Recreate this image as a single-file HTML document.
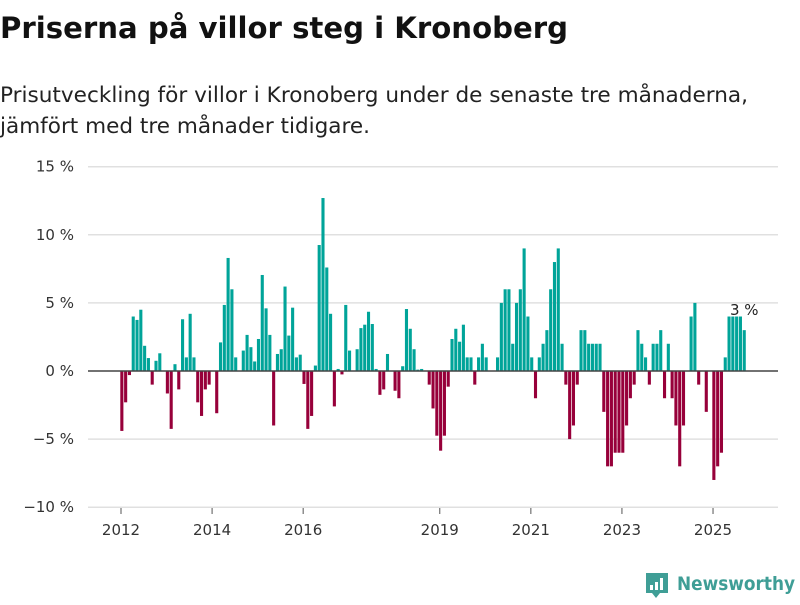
<!DOCTYPE html>
<html><head><meta charset="utf-8">
<style>
body{margin:0;background:#fff;width:800px;height:600px;overflow:hidden;font-family:"Liberation Sans","DejaVu Sans",sans-serif;}
svg text{font-family:"DejaVu Sans","Liberation Sans",sans-serif;}
</style></head><body>
<svg id="chart" width="800" height="600">
<text x="0" y="38" font-size="29" font-weight="bold" fill="#111" textLength="568" lengthAdjust="spacingAndGlyphs">Priserna på villor steg i Kronoberg</text>
<text x="0" y="102" font-size="21" fill="#222" textLength="748" lengthAdjust="spacingAndGlyphs">Prisutveckling för villor i Kronoberg under de senaste tre månaderna,</text>
<text x="0" y="133" font-size="21" fill="#222" textLength="370" lengthAdjust="spacingAndGlyphs">jämfört med tre månader tidigare.</text>
<g id="grid"></g><g id="bars"></g><g id="xaxis"></g>
<text x="730" y="315" font-size="15" fill="#222">3 %</text>
<g>
<path d="M646 573 h22 v20 h-8 l-4 5 l-4 -5 h-6 z" fill="#3f9e96"/>
<rect x="650" y="585" width="3" height="5" fill="#fff"/><rect x="655" y="582" width="3" height="8" fill="#fff"/><rect x="660" y="578" width="3" height="12" fill="#fff"/>
<text x="677" y="590" font-size="19" fill="#3f9e96" font-weight="bold" textLength="118" lengthAdjust="spacingAndGlyphs">Newsworthy</text>
</g>
</svg>
<script>
const yTicks=[15,10,5,0,-5,-10];
const yTickLabels=["15 %","10 %","5 %","0 %","−5 %","−10 %"];
const xTickYears=[2012,2014,2016,2019,2021,2023,2025];
const startYear=2012;
const values=[-4.4,-2.3,-0.3,4.0,3.75,4.5,1.85,0.95,-1.0,0.75,1.3,0,
-1.65,-4.25,0.5,-1.35,3.8,1.0,4.2,1.0,-2.3,-3.3,-1.35,-1.0,
0,-3.1,2.1,4.85,8.3,6.0,1.0,0,1.5,2.65,1.75,0.7,
2.35,7.05,4.6,2.65,-4.0,1.25,1.6,6.2,2.6,4.65,1.0,1.2,
-0.95,-4.25,-3.3,0.4,9.25,12.7,7.6,4.2,-2.6,0.15,-0.25,4.85,
1.5,0,1.6,3.15,3.4,4.35,3.45,0.15,-1.75,-1.35,1.25,0,
-1.45,-2.0,0.35,4.55,3.1,1.6,0.1,0.15,0,-1.0,-2.75,-4.75,
-5.85,-4.75,-1.15,2.35,3.1,2.15,3.4,1.0,1.0,-1.0,1.0,2.0,
1.0,0,0,1.0,5.0,6.0,6.0,2.0,5.0,6.0,9.0,4.0,
1.0,-2.0,1.0,2.0,3.0,6.0,8.0,9.0,2.0,-1.0,-5.0,-4.0,
-1.0,3,3,2,2,2,2,-3,-7,-7,-6,-6,
-6,-4,-2,-1,3,2,1,-1,2,2,3,-2,
2,-2,-4,-7,-4,0,4,5,-1,0,-3,0,
-8,-7,-6,1,4,4,4,4,3];
const NS="http://www.w3.org/2000/svg";
const y=v=>371-v*13.62;
const xm=i=>120.3+i*3.795;
const xy=yr=>xm((yr-startYear)*12)+0.7;
const grid=document.getElementById('grid');
yTicks.forEach((t,k)=>{
  if(t!==0){const l=document.createElementNS(NS,'line');
  l.setAttribute('x1',88);l.setAttribute('x2',778);l.setAttribute('y1',y(t));l.setAttribute('y2',y(t));
  l.setAttribute('stroke','#e0e0e0');l.setAttribute('stroke-width','1.5');
  
  
  grid.appendChild(l);}
  const tx=document.createElementNS(NS,'text');
  tx.setAttribute('x',74);tx.setAttribute('y',y(t)+5);tx.setAttribute('text-anchor','end');
  tx.setAttribute('font-size','15');tx.setAttribute('fill','#333');tx.textContent=yTickLabels[k];
  
  
  grid.appendChild(tx);
});
const bars=document.getElementById('bars');
values.forEach((v,i)=>{
  if(v===0)return;
  const r=document.createElementNS(NS,'rect');
  r.setAttribute('x',xm(i));r.setAttribute('width',3.1);
  r.setAttribute('y',Math.min(y(v),y(0)));r.setAttribute('height',Math.abs(y(v)-y(0)));
  r.setAttribute('fill',v>0?'#00a499':'#97003a');
  
  
  bars.appendChild(r);
});
const zl=document.createElementNS(NS,'line');
zl.setAttribute('x1',88);zl.setAttribute('x2',778);zl.setAttribute('y1',y(0));zl.setAttribute('y2',y(0));
zl.setAttribute('stroke','#444');zl.setAttribute('stroke-width','1.6');


bars.appendChild(zl);
const xa=document.getElementById('xaxis');
xTickYears.forEach(yr=>{
  const l=document.createElementNS(NS,'line');
  l.setAttribute('x1',xy(yr));l.setAttribute('x2',xy(yr));l.setAttribute('y1',508);l.setAttribute('y2',514);
  l.setAttribute('stroke','#555');
  
  
  xa.appendChild(l);
  const t=document.createElementNS(NS,'text');
  t.setAttribute('x',xy(yr));t.setAttribute('y',535);t.setAttribute('text-anchor','middle');
  t.setAttribute('font-size','15');t.setAttribute('fill','#333');t.textContent=yr;
  
  
  xa.appendChild(t);
});
</script>
</body></html>
